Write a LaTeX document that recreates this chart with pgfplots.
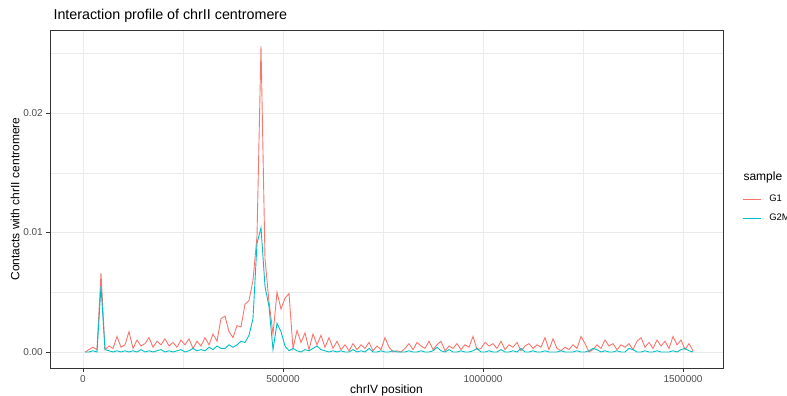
\documentclass[border=0pt]{standalone}
\usepackage{fontspec}
\setmainfont{Liberation Sans}
\usepackage{pgfplots}
\usepackage{pgfplotstable}
\pgfplotsset{compat=1.18}

\definecolor{gone}{HTML}{F8766D}
\definecolor{gtwo}{HTML}{00BFC4}
\definecolor{grid92}{HTML}{EBEBEB}
\definecolor{grey20}{HTML}{333333}
\definecolor{grey30}{HTML}{4D4D4D}

% contacts per 10 kb bin (bin centre)
\pgfplotstableread{
pos g1 g2m
5000 0.0000 0.0000
15000 0.0002 0.0000
25000 0.0004 0.0001
35000 0.0002 0.0000
45000 0.0066 0.0055
55000 0.0002 0.0002
65000 0.0005 0.0001
75000 0.0003 0.0000
85000 0.0013 0.0001
95000 0.0004 0.0000
105000 0.0006 0.0001
115000 0.0017 0.0000
125000 0.0003 0.0001
135000 0.0010 0.0000
145000 0.0005 0.0002
155000 0.0007 0.0000
165000 0.0012 0.0001
175000 0.0004 0.0000
185000 0.0009 0.0001
195000 0.0006 0.0002
205000 0.0011 0.0000
215000 0.0005 0.0001
225000 0.0008 0.0000
235000 0.0004 0.0001
245000 0.0010 0.0002
255000 0.0006 0.0000
265000 0.0011 0.0001
275000 0.0003 0.0003
285000 0.0009 0.0001
295000 0.0005 0.0002
305000 0.0012 0.0001
315000 0.0006 0.0004
325000 0.0015 0.0002
335000 0.0009 0.0005
345000 0.0028 0.0003
355000 0.0030 0.0003
365000 0.0017 0.0006
375000 0.0012 0.0004
385000 0.0022 0.0006
395000 0.0021 0.0009
405000 0.0040 0.0008
415000 0.0043 0.0014
425000 0.0060 0.0028
435000 0.0097 0.0091
445000 0.0256 0.0104
455000 0.0078 0.0055
465000 0.0042 0.0038
475000 0.0015 0.0002
485000 0.0050 0.0024
495000 0.0036 0.0017
505000 0.0045 0.0005
515000 0.0049 0.0001
525000 0.0003 0.0003
535000 0.0018 0.0001
545000 0.0008 0.0000
555000 0.0016 0.0002
565000 0.0002 0.0001
575000 0.0015 0.0003
585000 0.0006 0.0005
595000 0.0014 0.0002
605000 0.0004 0.0001
615000 0.0012 0.0000
625000 0.0003 0.0001
635000 0.0009 0.0000
645000 0.0002 0.0001
655000 0.0006 0.0000
665000 0.0001 0.0000
675000 0.0007 0.0002
685000 0.0002 0.0000
695000 0.0006 0.0001
705000 0.0003 0.0000
715000 0.0008 0.0003
725000 0.0001 0.0000
735000 0.0005 0.0000
745000 0.0002 0.0001
755000 0.0012 0.0000
765000 0.0004 0.0000
775000 0.0000 0.0001
785000 0.0001 0.0000
795000 0.0000 0.0000
805000 0.0003 0.0000
815000 0.0007 0.0001
825000 0.0002 0.0000
835000 0.0008 0.0000
845000 0.0005 0.0001
855000 0.0003 0.0000
865000 0.0009 0.0000
875000 0.0002 0.0001
885000 0.0006 0.0004
895000 0.0009 0.0001
905000 0.0001 0.0000
915000 0.0005 0.0002
925000 0.0003 0.0000
935000 0.0007 0.0000
945000 0.0002 0.0001
955000 0.0006 0.0000
965000 0.0004 0.0000
975000 0.0013 0.0001
985000 0.0002 0.0003
995000 0.0003 0.0000
1005000 0.0008 0.0000
1015000 0.0005 0.0001
1025000 0.0007 0.0000
1035000 0.0003 0.0000
1045000 0.0009 0.0002
1055000 0.0002 0.0000
1065000 0.0006 0.0000
1075000 0.0004 0.0001
1085000 0.0008 0.0000
1095000 0.0001 0.0003
1105000 0.0005 0.0000
1115000 0.0007 0.0000
1125000 0.0003 0.0001
1135000 0.0006 0.0000
1145000 0.0004 0.0000
1155000 0.0012 0.0001
1165000 0.0002 0.0000
1175000 0.0011 0.0000
1185000 0.0003 0.0000
1195000 0.0001 0.0001
1205000 0.0004 0.0000
1215000 0.0002 0.0000
1225000 0.0006 0.0000
1235000 0.0003 0.0001
1245000 0.0013 0.0000
1255000 0.0007 0.0000
1265000 0.0000 0.0001
1275000 0.0002 0.0003
1285000 0.0006 0.0002
1295000 0.0003 0.0000
1305000 0.0010 0.0001
1315000 0.0005 0.0000
1325000 0.0007 0.0000
1335000 0.0002 0.0001
1345000 0.0006 0.0000
1355000 0.0004 0.0000
1365000 0.0007 0.0003
1375000 0.0002 0.0002
1385000 0.0009 0.0000
1395000 0.0012 0.0000
1405000 0.0004 0.0001
1415000 0.0008 0.0000
1425000 0.0003 0.0000
1435000 0.0010 0.0001
1445000 0.0005 0.0000
1455000 0.0009 0.0000
1465000 0.0003 0.0000
1475000 0.0013 0.0001
1485000 0.0006 0.0000
1495000 0.0010 0.0002
1505000 0.0002 0.0003
1515000 0.0007 0.0001
1525000 0.0001 0.0000
}\profile

\begin{document}
\begin{tikzpicture}[x=1pt,y=1pt]
\useasboundingbox (0,0) rectangle (787,396);
\begin{axis}[
  at={(50pt,28pt)}, anchor=south west,
  scale only axis, width=673pt, height=338pt,
  xmin=-82500, xmax=1600000, ymin=-0.00134, ymax=0.02695,
  xtick={0,500000,1000000,1500000},
  minor xtick={250000,750000,1250000},
  ytick={0,0.01,0.02},
  minor ytick={0.005,0.015,0.025},
  grid=both,
  major grid style={grid92, line width=0.9pt},
  minor grid style={grid92, line width=0.45pt},
  axis line style={grey20, line width=0.9pt},
  tick style={grey20, line width=0.9pt},
  tick align=outside, major tick length=3.7pt, minor tick length=0pt,
  xtick pos=bottom, ytick pos=left,
  scaled x ticks=false, scaled y ticks=false,
  xticklabel style={/pgf/number format/.cd, fixed, 1000 sep={}, assume math mode=true},
  yticklabel style={/pgf/number format/.cd, fixed, fixed zerofill, precision=2, assume math mode=true},
  ticklabel style={font=\fontsize{10}{11}\selectfont, text=grey30},
  xlabel={chrIV position},
  ylabel={Contacts with chrII centromere},
  label style={font=\fontsize{12}{14}\selectfont},
  xlabel style={yshift=4pt},
  ylabel style={yshift=-3pt},
  legend style={at={(1.028,0.518)}, anchor=north west, draw=none, fill=none,
    inner sep=0pt, font=\fontsize{9.5}{11}\selectfont, row sep=7pt,
    /tikz/every odd column/.append style={column sep=6pt}},
  legend cell align=left,
  legend image code/.code={\draw[#1, line width=1.2pt] (0pt,0pt) -- (18pt,0pt);},
  clip mode=individual,
]
\addplot[gone, line width=0.9pt] table[x=pos, y=g1] {\profile};
\addlegendentry{G1}
\addplot[gtwo, line width=0.9pt] table[x=pos, y=g2m] {\profile};
\addlegendentry{G2M}
\end{axis}
\node[anchor=base west, font=\fontsize{14.3}{16}\selectfont] at (50,376) {Interaction profile of chrII centromere};
\node[anchor=west, font=\fontsize{12}{14}\selectfont] at (740,219) {sample};
\end{tikzpicture}
\end{document}
